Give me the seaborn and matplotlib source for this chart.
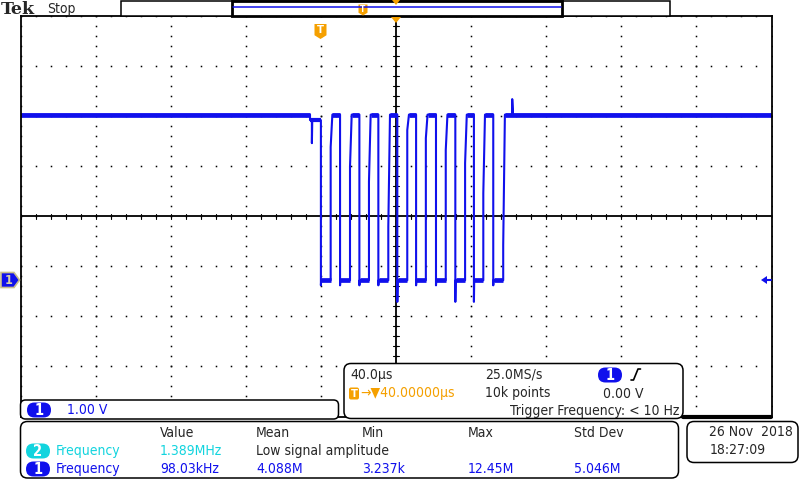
import numpy as np
import pandas as pd
import matplotlib
matplotlib.use("Agg")
import matplotlib.pyplot as plt
import seaborn as sns
from matplotlib.patches import FancyBboxPatch, Polygon, Rectangle

NIVEL_ALTO = 3.31          # V
NIVEL_BAIXO = 0.0          # V
T_INICIO, T_FIM = -160.0, 240.0   # µs (janela de 10 div)

descidas_us = [0.0, 10.2, 20.5, 30.6, 40.7, 50.7, 61.3, 71.6, 81.5, 91.8]
subidas_us = [5.2, 15.5, 25.6, 35.9, 46.0, 55.9, 66.5, 76.8, 86.5, 97.1]
joelho_subida_v = [2.66, 2.27, 1.97, 1.07, 3.0, 2.84, 2.6, 2.34, 1.74, 0.7]
minimo_descida_v = [-0.1, -0.1, -0.1, -0.1, -0.43, -0.1, -0.1, -0.43, -0.43, -0.1]
cauda_subida_us = 0.9

# pequeno afundamento antes da rajada e pico depois dela
afundamento_us = [-5.8, -0.2]
afundamento_v = 3.2
glitch_us, glitch_v = -4.8, 2.74
pico_us, pico_v = 101.9, 3.62

# painel de medidas
cabecalhos = ["Value", "Mean", "Min", "Max", "Std Dev"]
medidas_ch1 = ["98.03kHz", "4.088M", "3.237k", "12.45M", "5.046M"]
medida_ch2 = "1.389MHz"

AZUL = "#1010EC"
CIANO = "#12D4DE"
LARANJA = "#F5A000"

sns.set_style("white")
plt.rcParams["font.family"] = ["DejaVu Sans"]
plt.rcParams["font.stretch"] = "condensed"

# --- montar o traço em degraus a partir das bordas ---
tt = [T_INICIO, afundamento_us[0], afundamento_us[0], glitch_us, glitch_us, glitch_us + 0.2]
vv = [NIVEL_ALTO, NIVEL_ALTO, afundamento_v, afundamento_v, glitch_v, afundamento_v]
for i in range(len(descidas_us)):
    nivel_antes = afundamento_v if i == 0 else NIVEL_ALTO
    tt += [descidas_us[i], descidas_us[i], descidas_us[i] + 0.15,
           subidas_us[i], subidas_us[i], subidas_us[i] + cauda_subida_us]
    vv += [nivel_antes, minimo_descida_v[i], NIVEL_BAIXO,
           NIVEL_BAIXO, joelho_subida_v[i], NIVEL_ALTO]
tt += [pico_us, pico_us, pico_us + 0.4, T_FIM]
vv += [NIVEL_ALTO, pico_v, NIVEL_ALTO, NIVEL_ALTO]
df = pd.DataFrame({"t": tt, "v": vv})

fig = plt.figure(figsize=(8, 4.8), dpi=100)
fig.patch.set_facecolor("white")

# área da grade: px 20.5..771.5 x 16..416.5
ax = fig.add_axes([20.5 / 800, (480 - 416.5) / 480, 751 / 800, 400.5 / 480])
y_base = NIVEL_BAIXO - 2.72
ax.set_xlim(T_INICIO, T_FIM)
ax.set_ylim(y_base, y_base + 8)
ax.set_xticks([])
ax.set_yticks([])
for s in ax.spines.values():
    s.set_color("black")
    s.set_linewidth(1.3)

# grade pontilhada (pontos a cada 1/5 de divisão)
xc = T_INICIO + 5 * 40
yc = y_base + 4
for k in range(11):
    xg = T_INICIO + 40 * k
    ys = np.arange(y_base, y_base + 8.01, 0.2)
    ax.plot(np.full_like(ys, xg), ys, "s", ms=1.1, color="black", mew=0)
for k in range(9):
    yg = y_base + k
    xs = np.arange(T_INICIO, T_FIM + 0.1, 8)
    ax.plot(xs, np.full_like(xs, yg), "s", ms=1.1, color="black", mew=0)
# eixos centrais sólidos com marcas
ax.axvline(xc, color="black", lw=1.3)
ax.axhline(yc, color="black", lw=1.3)
for xm in np.arange(T_INICIO, T_FIM + 0.1, 8):
    ax.plot([xm, xm], [yc - 0.05, yc + 0.05], color="black", lw=0.8)
for ym in np.arange(y_base, y_base + 8.01, 0.2):
    ax.plot([xc - 1.6, xc + 1.6], [ym, ym], color="black", lw=0.8)

# traço do canal 1
sns.lineplot(data=df, x="t", y="v", ax=ax, color=AZUL, lw=1.5,
             sort=False, estimator=None)
# faixa de ruído nos patamares
planos_alto = [(T_INICIO, afundamento_us[0])]
planos_alto += [(subidas_us[i] + cauda_subida_us, descidas_us[i + 1]) for i in range(len(subidas_us) - 1)]
planos_alto += [(subidas_us[-1] + cauda_subida_us, T_FIM)]
for a, b in planos_alto:
    ax.plot([a, b], [NIVEL_ALTO, NIVEL_ALTO], color=AZUL, lw=3.4, solid_capstyle="butt")
ax.plot(afundamento_us, [afundamento_v, afundamento_v], color=AZUL, lw=3.0, solid_capstyle="butt")
for a, b in zip(descidas_us, subidas_us):
    ax.plot([a + 0.15, b], [NIVEL_BAIXO, NIVEL_BAIXO], color=AZUL, lw=3.4, solid_capstyle="butt")
ax.set_xlabel("")
ax.set_ylabel("")

# --- camada de sobreposição em pixels ---
ov = fig.add_axes([0, 0, 1, 1])
ov.set_xlim(0, 800)
ov.set_ylim(480, 0)
ov.axis("off")
ov.patch.set_alpha(0)


def caixa(x, y, w, h, r=6, lw=1.1, fc="white", ec="black"):
    ov.add_patch(FancyBboxPatch((x, y), w, h, boxstyle=f"round,pad=0,rounding_size={r}",
                                fc=fc, ec=ec, lw=lw))


def selo(x, y, n, cor):
    caixa(x, y - 7.5, 24, 15, r=7.5, lw=0, fc=cor, ec="none")
    ov.text(x + 12, y + 0.5, n, color="white", fontsize=10.5, fontweight="bold",
            ha="center", va="center")


def selo_t(x, y, w, h, fs):
    ov.add_patch(Polygon([(x - w / 2, y), (x + w / 2, y), (x + w / 2, y + h * 0.75),
                          (x, y + h), (x - w / 2, y + h * 0.75)], closed=True,
                         fc=LARANJA, ec="none"))
    ov.text(x, y + h * 0.42, "T", color="white", fontsize=fs, fontweight="bold",
            ha="center", va="center")


TXT = dict(fontsize=10, va="center")

# barra superior
ov.text(1, 14.5, "Tek", fontsize=12.5, fontweight="bold", family="DejaVu Serif",
        fontstretch="normal", va="baseline")
ov.text(47, 8.5, "Stop", **TXT)
ov.add_patch(Rectangle((121, 0.5), 549, 15.5, fc="white", ec="black", lw=1.1))
ov.add_patch(Rectangle((232, 0.5), 330, 15.5, fc="white", ec="black", lw=2.0))
ov.plot([233, 561], [7.3, 7.3], color=AZUL, lw=1.1)
selo_t(363, 4.5, 9, 11, 6)
ov.add_patch(Polygon([(392, 0), (400, 0), (396, 5)], closed=True, fc=LARANJA, ec="none"))

# marcadores da grade
ov.add_patch(Polygon([(391, 17), (401, 17), (396, 23)], closed=True, fc=LARANJA, ec="none"))
selo_t(320.5, 24, 12, 15, 8)
ov.add_patch(Polygon([(1, 272.5), (14, 272.5), (19.5, 280), (14, 287.5), (1, 287.5)],
                     closed=True, fc=AZUL, ec="#C8BE8C", lw=1.2))
ov.text(8.5, 280.5, "1", color="#D8D0A8", fontsize=9, fontweight="bold",
        ha="center", va="center")
ov.add_patch(Polygon([(761, 280), (767, 276), (767, 284)], closed=True, fc=AZUL, ec="none"))
ov.plot([766, 771], [280, 280], color=AZUL, lw=1.5)
ov.plot([683, 771], [416.5, 416.5], color="black", lw=3)

# caixa da escala vertical
caixa(20.5, 400, 318, 19, r=5)
selo(27, 410, "1", AZUL)
ov.text(67, 410, "1.00 V", color=AZUL, **TXT)

# caixa horizontal / disparo
caixa(344, 363.5, 339, 55, r=7)
ov.text(350, 375, "40.0µs", **TXT)
ov.text(485, 375, "25.0MS/s", **TXT)
selo(598, 375, "1", AZUL)
ov.plot([631, 633.5, 638, 640.5], [380, 380, 369, 369], color="black", lw=1.2)
ov.add_patch(FancyBboxPatch((349, 387.5), 10, 12, boxstyle="round,pad=0,rounding_size=2",
                            fc=LARANJA, ec="none"))
ov.text(354, 394, "T", color="white", fontsize=8, fontweight="bold",
        ha="center", va="center")
ov.text(360, 393.5, "→▼40.00000µs", color=LARANJA, **TXT)
ov.text(485, 393.5, "10k points", **TXT)
ov.text(603, 393.5, "0.00 V", **TXT)
ov.text(679, 411.5, "Trigger Frequency: < 10 Hz", ha="right", **TXT)

# painel de medidas
caixa(20.5, 421.5, 658, 56.5, r=7)
cols_x = [160, 256, 362, 468, 574]
for x, h in zip(cols_x, cabecalhos):
    ov.text(x, 433, h, **TXT)
selo(26, 451, "2", CIANO)
ov.text(56, 451, "Frequency", color=CIANO, **TXT)
ov.text(cols_x[0], 451, medida_ch2, color=CIANO, **TXT)
ov.text(cols_x[1], 451, "Low signal amplitude", **TXT)
selo(26, 469, "1", AZUL)
ov.text(56, 469, "Frequency", color=AZUL, **TXT)
for x, m in zip(cols_x, medidas_ch1):
    ov.text(x, 469, m, color=AZUL, **TXT)

# data e hora
caixa(687, 421.5, 111, 41, r=7)
ov.text(793, 432, "26 Nov  2018", ha="right", **TXT)
ov.text(710, 450, "18:27:09", **TXT)

fig.savefig("out.png", dpi=100, facecolor="white")
